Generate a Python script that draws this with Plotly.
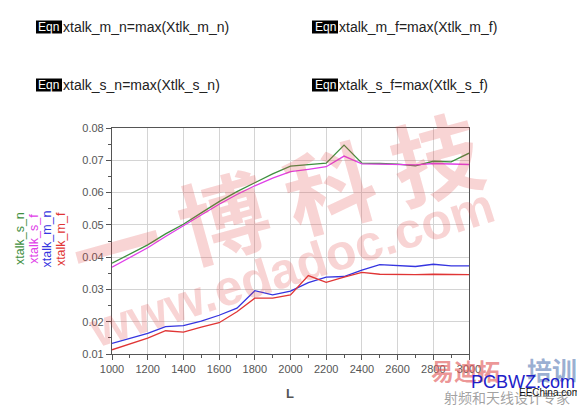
import plotly.graph_objects as go

L = [1000, 1100, 1200, 1300, 1400, 1500, 1600, 1700, 1800, 1900, 2000,
     2100, 2200, 2300, 2400, 2500, 2600, 2700, 2800, 2900, 3000]
xtalk_s_n = [0.0381, 0.0410, 0.0438, 0.0472, 0.0502, 0.0537, 0.0572, 0.0603, 0.0631, 0.0658, 0.0682,
             0.0687, 0.0691, 0.0747, 0.0691, 0.0690, 0.0688, 0.0683, 0.0697, 0.0695, 0.0722]
xtalk_s_f = [0.0369, 0.0400, 0.0429, 0.0464, 0.0497, 0.0531, 0.0564, 0.0594, 0.0621, 0.0645, 0.0665,
             0.0672, 0.0680, 0.0713, 0.0689, 0.0688, 0.0687, 0.0686, 0.0690, 0.0688, 0.0687]
xtalk_m_n = [0.0133, 0.0149, 0.0164, 0.0185, 0.0188, 0.0202, 0.0220, 0.0242, 0.0296, 0.0283, 0.0295,
             0.0321, 0.0338, 0.0340, 0.0360, 0.0377, 0.0373, 0.0371, 0.0378, 0.0373, 0.0373]
xtalk_m_f = [0.0113, 0.0131, 0.0149, 0.0172, 0.0168, 0.0183, 0.0197, 0.0231, 0.0273, 0.0273, 0.0283,
             0.0343, 0.0322, 0.0338, 0.0353, 0.0347, 0.0346, 0.0346, 0.0347, 0.0346, 0.0346]

series_names = ["xtalk_s_n", "xtalk_s_f", "xtalk_m_n", "xtalk_m_f"]
series_vals = [xtalk_s_n, xtalk_s_f, xtalk_m_n, xtalk_m_f]
series_colors = ["#3f8f3f", "#e040e8", "#3535e0", "#e03535"]

equations = ["xtalk_m_n=max(Xtlk_m_n)", "xtalk_m_f=max(Xtlk_m_f)",
             "xtalk_s_n=max(Xtlk_s_n)", "xtalk_s_f=max(Xtlk_s_f)"]

# page body has an 8px margin, so the figure is made 8px smaller and offset
OFF = 8
W, H = 585 - OFF, 407 - OFF
ml, mt = 112 - OFF, 128 - OFF
mr = W - (469 - OFF)
mb = H - (354 - OFF)
PW, PH = W - ml - mr, H - mt - mb


def px(X):
    return (X - OFF - ml) / PW


def py(Y):
    return (H - mb - (Y - OFF)) / PH


fig = go.Figure()
for name, vals, col in zip(series_names, series_vals, series_colors):
    fig.add_trace(go.Scatter(x=L, y=vals, mode="lines", name=name,
                             line=dict(color=col, width=1.3)))

axis_common = dict(showline=True, linecolor="#555555", linewidth=1.2, mirror=True,
                   ticks="outside", tickcolor="#555555", ticklen=5,
                   showgrid=True, gridcolor="#d4d4d4", gridwidth=1,
                   zeroline=False, tickfont=dict(family="Arial", size=11, color="#555555"))

fig.update_layout(
    width=W, height=H,
    margin=dict(l=ml, r=mr, t=mt, b=mb),
    paper_bgcolor="white", plot_bgcolor="white",
    showlegend=False,
    xaxis=dict(range=[1000, 3000], tickvals=list(range(1000, 3001, 200)),
               minor=dict(ticks="outside", ticklen=3, tickcolor="#555555",
                          dtick=100, showgrid=False),
               **axis_common),
    yaxis=dict(range=[0.01, 0.08], tickvals=[0.01, 0.02, 0.03, 0.04, 0.05, 0.06, 0.07, 0.08],
               tickformat=".2f",
               minor=dict(ticks="outside", ticklen=3, tickcolor="#555555",
                          dtick=0.005, showgrid=False),
               **axis_common),
)

# watermarks (faint)
wm = "rgba(225,70,70,0.23)"
fig.add_annotation(text="<b>一 博 科 技</b>", xref="paper", yref="paper", x=px(275), y=py(199),
                   showarrow=False, textangle=-15.5, xanchor="center", yanchor="middle",
                   font=dict(family="Noto Sans CJK SC", size=90, color=wm))
fig.add_annotation(text="<b>www.edadoc.com</b>", xref="paper", yref="paper", x=px(291), y=py(268),
                   showarrow=False, textangle=-17.7, xanchor="center", yanchor="middle",
                   font=dict(family="Arial", size=50, color=wm))

# x-axis title
fig.add_annotation(text="<b>L</b>", xref="paper", yref="paper", x=px(290), y=py(393),
                   showarrow=False, xanchor="center", yanchor="middle",
                   font=dict(family="Arial", size=13, color="#555555"))

# stacked y-axis titles
for i, (name, col) in enumerate(zip(series_names, series_colors)):
    fig.add_annotation(text=name, xref="paper", yref="paper", x=px(20 + 13.7 * i), y=py(239),
                       showarrow=False, textangle=-90,
                       xanchor="center", yanchor="middle",
                       font=dict(family="Arial", size=12.5, color=col))

# equation blocks
eq_pos = [(36, 27), (312, 27), (36, 85), (312, 85)]
for text, (ex, ey) in zip(equations, eq_pos):
    fig.add_shape(type="rect", xref="paper", yref="paper",
                  x0=px(ex), x1=px(ex + 26), y0=py(ey + 6.5), y1=py(ey - 6.5),
                  fillcolor="black", line=dict(width=0), layer="above")
    fig.add_annotation(text="Eqn", xref="paper", yref="paper",
                       x=px(ex + 13), y=py(ey),
                       showarrow=False, xanchor="center", yanchor="middle",
                       font=dict(family="Arial", size=12, color="white"))
    fig.add_annotation(text=text, xref="paper", yref="paper",
                       x=px(ex + 26), y=py(ey),
                       showarrow=False, xanchor="left", yanchor="middle", xshift=-1,
                       font=dict(family="Arial", size=14, color="#222222"))

# bottom-right logo
fig.add_annotation(text="<b>易迪拓</b>", xref="paper", yref="paper", x=px(465), y=py(370),
                   showarrow=False, xanchor="center", yanchor="middle",
                   font=dict(family="Noto Sans CJK SC", size=23, color="rgba(225,90,90,0.65)"))
fig.add_annotation(text="<b>培训</b>", xref="paper", yref="paper", x=px(552), y=py(369),
                   showarrow=False, xanchor="center", yanchor="middle",
                   font=dict(family="Noto Sans CJK SC", size=25, color="rgba(110,140,190,0.7)"))
fig.add_annotation(text="射频和天线设计专家", xref="paper", yref="paper", x=px(507), y=py(397),
                   showarrow=False, xanchor="center", yanchor="middle",
                   font=dict(family="Noto Sans CJK SC", size=14, color="rgba(120,120,120,0.7)"))
fig.add_annotation(text="PCBWZ.com", xref="paper", yref="paper", x=px(523), y=py(382),
                   showarrow=False, xanchor="center", yanchor="middle",
                   font=dict(family="Liberation Sans Narrow, Arial", size=18, color="#2020c8"))
fig.add_annotation(text="EEChina.com", xref="paper", yref="paper", x=px(549), y=py(392),
                   showarrow=False, xanchor="center", yanchor="middle",
                   font=dict(family="Arial", size=10, color="#111111"))

fig.write_html("out.html")
